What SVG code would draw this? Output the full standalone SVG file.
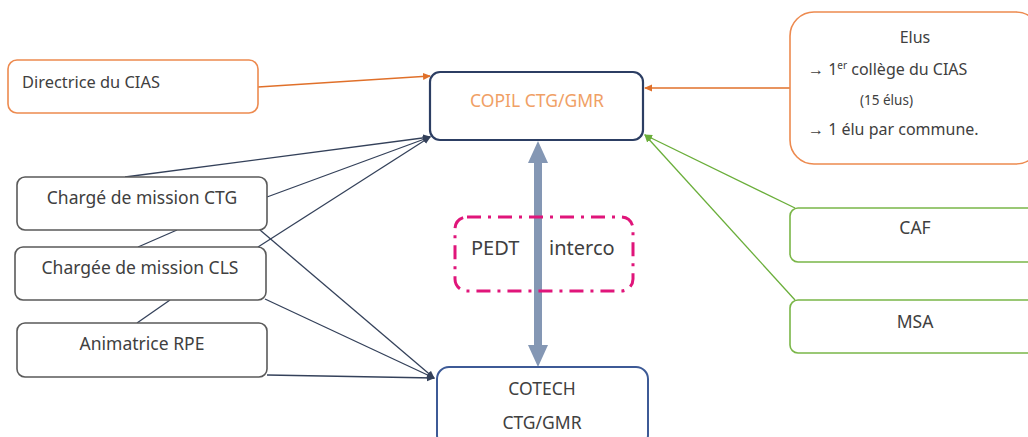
<svg xmlns="http://www.w3.org/2000/svg" width="1028" height="437" viewBox="0 0 1028 437">
<style>
text{font-family:"Noto Sans","Open Sans",sans-serif;font-size:17.5px;fill:#404040}
.box{fill:#fff;stroke-width:1.6}
.gray{stroke:#5a5a5a}
.orange{stroke:#ed8a4f}
.green{stroke:#7ab648}
.c{text-anchor:middle}
.ln{fill:none;stroke-width:1.3}
text.e{font-size:16px}
text.s{font-size:13.5px}
text.d{font-size:16.4px}
text.p{font-size:20px}
</style>
<defs>
<marker id="ad" markerWidth="8" markerHeight="8" refX="7" refY="4" orient="auto" markerUnits="userSpaceOnUse"><path d="M0,0.5 L8,4 L0,7.5 z" fill="#34415a"/></marker>
<marker id="ao" markerWidth="8" markerHeight="8" refX="7" refY="4" orient="auto" markerUnits="userSpaceOnUse"><path d="M0,0.5 L8,4 L0,7.5 z" fill="#e0702a"/></marker>
<marker id="ag" markerWidth="8" markerHeight="8" refX="7" refY="4" orient="auto" markerUnits="userSpaceOnUse"><path d="M0,0.5 L8,4 L0,7.5 z" fill="#6aae3a"/></marker>
</defs>
<g id="connectors">
<line class="ln" x1="258" y1="87" x2="430" y2="76" stroke="#e0702a" marker-end="url(#ao)"/>
<line class="ln" x1="790" y1="88" x2="645" y2="88" stroke="#e0702a" marker-end="url(#ao)"/>
<line class="ln" x1="795" y1="208" x2="645" y2="135" stroke="#6aae3a" marker-end="url(#ag)"/>
<line class="ln" x1="795" y1="300" x2="645" y2="135" stroke="#6aae3a" marker-end="url(#ag)"/>
<line class="ln" x1="125" y1="177" x2="430" y2="137" stroke="#34415a" marker-end="url(#ad)"/>
<line class="ln" x1="267" y1="197" x2="430" y2="137" stroke="#34415a" marker-end="url(#ad)"/>
<line class="ln" x1="258" y1="247" x2="430" y2="137" stroke="#34415a" marker-end="url(#ad)"/>
<line class="ln" x1="177" y1="230" x2="138" y2="247" stroke="#34415a"/>
<line class="ln" x1="170" y1="300" x2="137" y2="323" stroke="#34415a"/>
<line class="ln" x1="260" y1="230" x2="434" y2="378" stroke="#34415a" marker-end="url(#ad)"/>
<line class="ln" x1="265" y1="299" x2="434" y2="378" stroke="#34415a" marker-end="url(#ad)"/>
<line class="ln" x1="267" y1="375" x2="434" y2="378" stroke="#34415a" marker-end="url(#ad)"/>
<line x1="538" y1="160" x2="538" y2="348" stroke="#8497b4" stroke-width="8"/>
<path d="M538,141 L548,163 L528,163 z" fill="#8497b4"/>
<path d="M538,367 L548,345 L528,345 z" fill="#8497b4"/>
</g>
<g id="directrice">
<rect class="box orange" x="8" y="60" width="250" height="53" rx="9"/>
<text class="d" x="22" y="88">Directrice du CIAS</text>
</g>
<g id="copil">
<rect x="430" y="72" width="213" height="68" rx="10" fill="#fff" stroke="#2c3e63" stroke-width="2.2"/>
<text class="c" x="537" y="107" style="fill:#f0a065">COPIL CTG/GMR</text>
</g>
<g id="elus">
<rect class="box orange" x="790" y="12" width="250" height="152" rx="24"/>
<text class="c e" x="915" y="43">Elus</text>
<text class="e" x="808" y="75">→ 1<tspan dy="-6" style="font-size:10px">er</tspan><tspan dy="6"> collège du CIAS</tspan></text>
<text class="s" x="860" y="105">(15 élus)</text>
<text class="e" x="808" y="135">→ 1 élu par commune.</text>
</g>
<g id="ctg">
<rect class="box gray" x="17" y="177" width="250" height="53" rx="8"/>
<text class="c" x="142" y="204">Chargé de mission CTG</text>
</g>
<g id="cls">
<rect class="box gray" x="15" y="247" width="251" height="53" rx="8"/>
<text class="c" x="140" y="274">Chargée de mission CLS</text>
</g>
<g id="rpe">
<rect class="box gray" x="17" y="323" width="250" height="54" rx="8"/>
<text class="c" x="142" y="350">Animatrice RPE</text>
</g>
<g id="pedt">
<rect x="455" y="217" width="178" height="74" rx="12" fill="none" stroke="#e0157a" stroke-width="3" stroke-dasharray="14,7,3,7"/>
<text class="p" x="471" y="255">PEDT</text>
<text class="p" x="549" y="255">interco</text>
</g>
<g id="cotech">
<rect x="437" y="367" width="211" height="80" rx="12" fill="#fff" stroke="#3d5a96" stroke-width="2"/>
<text class="c" x="542" y="395">COTECH</text>
<text class="c" x="542" y="429">CTG/GMR</text>
</g>
<g id="caf">
<rect class="box green" x="790" y="208" width="250" height="54" rx="8"/>
<text class="c" x="915" y="234">CAF</text>
</g>
<g id="msa">
<rect class="box green" x="790" y="300" width="250" height="53" rx="8"/>
<text class="c" x="915" y="328">MSA</text>
</g>
</svg>
